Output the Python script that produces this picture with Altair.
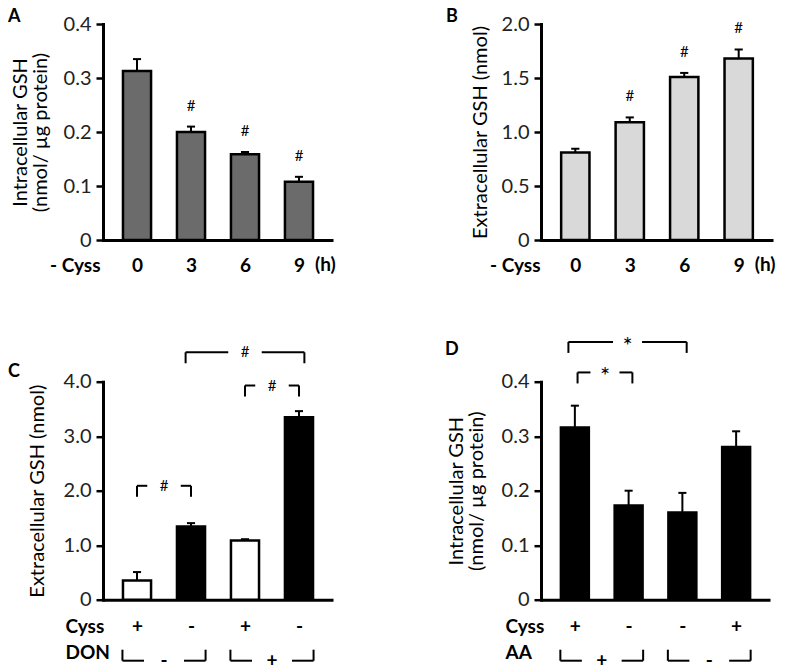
import json
import altair as alt
import pandas as pd

FONT = "Lato"

# ---------------- data ----------------
# Panel A: intracellular GSH after cystine deprivation
a_labels = ["0", "3", "6", "9"]
a_mean = [0.313, 0.200, 0.159, 0.108]
a_err = [0.022, 0.010, 0.004, 0.009]
a_sig = ["", "#", "#", "#"]

# Panel B: extracellular GSH after cystine deprivation
b_labels = ["0", "3", "6", "9"]
b_mean = [0.81, 1.09, 1.51, 1.68]
b_err = [0.035, 0.045, 0.037, 0.084]
b_sig = ["", "#", "#", "#"]

# Panel C: extracellular GSH, Cyss +/- and DON
c_cyss = ["+", "-", "+", "-"]
c_mean = [0.354, 1.343, 1.087, 3.348]
c_err = [0.153, 0.062, 0.023, 0.112]
c_group_first = [1, 3]
c_group_last = [2, 4]
c_group_sign = ["-", "+"]
c_br_x1 = [1.0, 3.0, 1.9]
c_br_x2 = [2.0, 4.0, 4.1]
c_br_y = [2.09, 3.93, 4.54]
c_br_sym = ["#", "#", "#"]

# Panel D: intracellular GSH, Cyss +/- and AA
d_cyss = ["+", "-", "-", "+"]
d_mean = [0.316, 0.173, 0.160, 0.280]
d_err = [0.040, 0.027, 0.036, 0.029]
d_group_first = [1, 3]
d_group_last = [2, 4]
d_group_sign = ["+", "-"]
d_br_x1 = [1.05, 0.88]
d_br_x2 = [2.07, 3.08]
d_br_y = [0.417, 0.473]
d_br_sym = ["*", "*"]

time_unit = "(h)"

# ---------------- helpers ----------------
XDOM = [0.37, 4.63]
HALF_BAR = 0.26
CAP = 0.075
LBL = 19


def y_axis(values, fmt_expr, title, title_x, height):
    return alt.Axis(
        values=values, labelExpr=fmt_expr, title=title,
        titleX=title_x, titleY=height / 2, titleAngle=270,
        titleAlign="center", titleBaseline="middle",
        titleFontSize=20, titleFontWeight="normal", titleLineHeight=20,
        domainWidth=3, domainColor="black", domainCap="square",
        tickSize=7, tickWidth=2.5, tickColor="black",
        labelFontSize=20, labelPadding=5, labelColor="#222",
        grid=False,
    )


def x_axis(labels, title, title_x, title_y, title_align, label_pad):
    return alt.Axis(
        values=[1, 2, 3, 4],
        labelExpr=f"{json.dumps(labels)}[datum.value - 1]",
        ticks=False, tickSize=0,
        domainWidth=3, domainColor="black",
        labelFontSize=LBL, labelFontWeight="bold", labelBaseline="middle",
        labelPadding=label_pad, labelFlush=False, labelColor="black",
        title=title, titleX=title_x, titleY=title_y, titleAlign=title_align,
        titleBaseline="middle", titleFontSize=LBL, titleFontWeight="bold",
        titleLineHeight=26, titleColor="black",
        grid=False,
    )


def panel(labels, mean, err, fill, ymax, yvals, yfmt, ytitle, ytitle_x,
          xtitle, xtitle_x, xtitle_y, xtitle_align, label_pad, height):
    df = pd.DataFrame({"pos": [1, 2, 3, 4], "label": labels,
                       "mean": mean, "err": err, "fill": fill})
    xsc = alt.Scale(domain=XDOM, nice=False, zero=False)
    ysc = alt.Scale(domain=[0, ymax], nice=False, zero=True)
    base = alt.Chart(df).transform_calculate(
        x0=f"datum.pos - {HALF_BAR}", x1=f"datum.pos + {HALF_BAR}",
        top="datum.mean + datum.err", zero="0",
        cl=f"datum.pos - {CAP}", cr=f"datum.pos + {CAP}",
    )
    bars = base.mark_rect(stroke="black", strokeWidth=2.5).encode(
        x=alt.X("x0:Q", scale=xsc,
                axis=x_axis(labels, xtitle, xtitle_x, xtitle_y, xtitle_align, label_pad)),
        x2="x1:Q",
        y=alt.Y("zero:Q", scale=ysc,
                axis=y_axis(yvals, yfmt, ytitle, ytitle_x, height)),
        y2="mean:Q",
        fill=alt.Fill("fill:N", scale=None),
    )
    stem = base.mark_rule(color="black", strokeWidth=2).encode(
        x=alt.X("pos:Q", scale=xsc),
        y=alt.Y("mean:Q", scale=ysc),
        y2="top:Q",
    )
    cap = base.mark_rule(color="black", strokeWidth=2).encode(
        x=alt.X("cl:Q", scale=xsc),
        x2="cr:Q",
        y=alt.Y("top:Q", scale=ysc),
    )
    return [bars, stem, cap], xsc, ysc, df


def brackets(x1, x2, yv, sym, xsc, ysc, gap, drop, size, sym_dy):
    bdf = pd.DataFrame({"x1": x1, "x2": x2, "y": yv, "sym": sym})
    bb = alt.Chart(bdf).transform_calculate(
        mid="(datum.x1 + datum.x2) / 2",
        gl=f"(datum.x1 + datum.x2) / 2 - {gap}",
        gr=f"(datum.x1 + datum.x2) / 2 + {gap}",
    )
    st = dict(color="black", strokeWidth=2)
    left = bb.mark_rule(**st).encode(
        x=alt.X("x1:Q", scale=xsc), x2="gl:Q", y=alt.Y("y:Q", scale=ysc))
    right = bb.mark_rule(**st).encode(
        x=alt.X("gr:Q", scale=xsc), x2="x2:Q", y=alt.Y("y:Q", scale=ysc))
    vl = bb.mark_rule(y2Offset=drop, **st).encode(
        x=alt.X("x1:Q", scale=xsc), y=alt.Y("y:Q", scale=ysc), y2="y:Q")
    vr = bb.mark_rule(y2Offset=drop, **st).encode(
        x=alt.X("x2:Q", scale=xsc), y=alt.Y("y:Q", scale=ysc), y2="y:Q")
    txt = bb.mark_text(fontSize=size, font=FONT, baseline="middle", dy=sym_dy,
                       align="center", color="black").encode(
        x=alt.X("mid:Q", scale=xsc), y=alt.Y("y:Q", scale=ysc), text="sym:N")
    return [left, right, vl, vr, txt]


def group_row(first, last, sign, xsc, height):
    gdf = pd.DataFrame({"p1": first, "p2": last, "sign": sign})
    gb = alt.Chart(gdf).transform_calculate(
        xl=f"datum.p1 - {HALF_BAR + 0.01}",
        xl2=f"datum.p1 - {HALF_BAR + 0.01} + 0.4",
        xr=f"datum.p2 + {HALF_BAR + 0.01}",
        xr2=f"datum.p2 + {HALF_BAR + 0.01} - 0.4",
        xm="(datum.p1 + datum.p2) / 2",
    )
    st = dict(color="black", strokeWidth=2)
    y_top = alt.value(height + 50)
    y_bot = alt.value(height + 61)
    return [
        gb.mark_rule(**st).encode(x=alt.X("xl:Q", scale=xsc), y=y_top, y2=y_bot),
        gb.mark_rule(**st).encode(x=alt.X("xl:Q", scale=xsc), x2="xl2:Q", y=y_bot),
        gb.mark_rule(**st).encode(x=alt.X("xr:Q", scale=xsc), y=y_top, y2=y_bot),
        gb.mark_rule(**st).encode(x=alt.X("xr2:Q", scale=xsc), x2="xr:Q", y=y_bot),
        gb.mark_text(fontSize=LBL, fontWeight="bold", font=FONT, baseline="middle",
                     color="black").encode(
            x=alt.X("xm:Q", scale=xsc), y=alt.value(height + 61), text="sign:N"),
    ]


def sig_marks(df, sig, xsc, ysc):
    sdf = df.assign(sig=sig)
    return alt.Chart(sdf).transform_calculate(top="datum.mean + datum.err").mark_text(
        fontSize=15, font=FONT, dy=-21, baseline="middle", color="black"
    ).encode(x=alt.X("pos:Q", scale=xsc), y=alt.Y("top:Q", scale=ysc), text="sig:N")


def unit_mark(df, xsc, height):
    udf = df.assign(unit=["", "", "", time_unit])
    return alt.Chart(udf).mark_text(
        dx=16, align="left", baseline="middle", fontSize=LBL, fontWeight="bold",
        font=FONT, color="black"
    ).encode(x=alt.X("pos:Q", scale=xsc), y=alt.value(height + 25), text="unit:N")


def letter_title(letter, dx, dy):
    return alt.Title(letter, anchor="start", frame="group", dx=dx, dy=dy,
                     fontSize=18, fontWeight="bold", font=FONT, color="black",
                     offset=0)


fmt1 = "datum.value == 0 ? '0' : format(datum.value, '.1f')"

# ---- A ----
HA = 216
la, xa, ya, dfa = panel(a_labels, a_mean, a_err, ["#6b6b6b"] * 4, 0.4,
                        [0, 0.1, 0.2, 0.3, 0.4], fmt1,
                        ["Intracellular GSH", "(nmol/ µg protein)"], -83,
                        "- Cyss", -3, 25, "right", 25, HA)
A = alt.layer(*la, sig_marks(dfa, a_sig, xa, ya), unit_mark(dfa, xa, HA)).properties(
    width=230, height=HA, title=letter_title("A", -95, 12))

# ---- B ----
lb, xb, yb, dfb = panel(b_labels, b_mean, b_err, ["#d9d9d9"] * 4, 2.0,
                        [0, 0.5, 1.0, 1.5, 2.0], fmt1,
                        "Extracellular GSH (nmol)", -61,
                        "- Cyss", -1, 25, "right", 25, HA)
B = alt.layer(*lb, sig_marks(dfb, b_sig, xb, yb), unit_mark(dfb, xb, HA)).properties(
    width=232, height=HA, title=letter_title("B", -95, 12))

# ---- C ----
HC = 218
c_fill = ["white" if s == "+" else "black" for s in c_cyss]
lc, xc, yc, dfc = panel(c_cyss, c_mean, c_err, c_fill, 4.0,
                        [0, 1, 2, 3, 4], fmt1,
                        "Extracellular GSH (nmol)", -66,
                        ["Cyss", "DON"], -38, 27, "left", 27, HC)
C = alt.layer(*lc, *brackets(c_br_x1, c_br_x2, c_br_y, c_br_sym, xc, yc, 0.31, 11, 15, 0),
              *group_row(c_group_first, c_group_last, c_group_sign, xc, HC)).properties(
    width=230, height=HC, title=letter_title("C", -95, 36))

# ---- D ----
ld, xd, yd, dfd = panel(d_cyss, d_mean, d_err, ["black"] * 4, 0.4,
                        [0, 0.1, 0.2, 0.3, 0.4], fmt1,
                        ["Intracellular GSH", "(nmol/ µg protein)"], -85,
                        ["Cyss", "AA"], -36, 27, "left", 27, HC)
D = alt.layer(*ld, *brackets(d_br_x1, d_br_x2, d_br_y, d_br_sym, xd, yd, 0.27, 11, 24, 5),
              *group_row(d_group_first, d_group_last, d_group_sign, xd, HC)).properties(
    width=229, height=HC, title=letter_title("D", -96, 24))

chart = alt.concat(A, B, C, D, columns=2,
                   spacing={"row": 141.7, "column": 208},
                   bounds="flush").properties(
    padding=0, background="white"
).configure_view(stroke=None).configure_axis(
    labelFont=FONT, titleFont=FONT
).configure_text(font=FONT).configure_title(font=FONT)

chart.save("out.html", embed_options={"renderer": "svg", "actions": False})
